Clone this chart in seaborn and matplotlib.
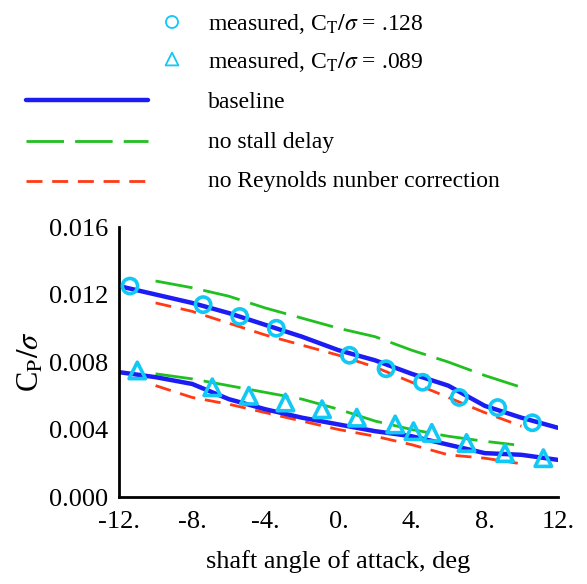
import matplotlib
matplotlib.use('Agg')
import matplotlib.pyplot as plt
import seaborn as sns

# measured points
alpha_128 = [-11.4, -7.4, -5.4, -3.4, 0.6, 2.6, 4.6, 6.6, 8.7, 10.6]
cp_128 = [0.0125, 0.0114, 0.0107, 0.0100, 0.0084, 0.0076, 0.0068, 0.0059, 0.0053, 0.0044]
alpha_089 = [-11.0, -6.9, -4.9, -2.9, -0.9, 1.0, 3.1, 4.1, 5.1, 7.0, 9.1, 11.2]
cp_089 = [0.0075, 0.0065, 0.0060, 0.0056, 0.0052, 0.0047, 0.0043, 0.0039, 0.0038, 0.0032, 0.0026, 0.0023]

# predictions
alpha_base = [-12, -10, -8, -6, -4, -2, 0, 2, 4, 6, 8, 10, 12]
base_128 = [0.0125, 0.0120, 0.0115, 0.0109, 0.0102, 0.0095, 0.0087, 0.0081, 0.0073, 0.0066, 0.0054, 0.0047, 0.0041]
base_089 = [0.0074, 0.0071, 0.0067, 0.0058, 0.0052, 0.0047, 0.0043, 0.0039, 0.0036, 0.0031, 0.0026, 0.0025, 0.0022]

alpha_nsd_128 = [-10, -8, -6, -4, -2, 0, 2, 4, 6, 8, 10]
nsd_128 = [0.0128, 0.0124, 0.0119, 0.0112, 0.0106, 0.0100, 0.0095, 0.0087, 0.0080, 0.0072, 0.0065]
alpha_nsd_089 = [-10, -8, -6, -4, -2, 0, 2, 4, 6, 8, 9.6]
nsd_089 = [0.0073, 0.0070, 0.0066, 0.0062, 0.0058, 0.0052, 0.0045, 0.0040, 0.0036, 0.0033, 0.0031]

alpha_nre_128 = [-10, -8, -6, -4, -2, 0, 2, 4, 6, 8, 10]
nre_128 = [0.0115, 0.0110, 0.0103, 0.0096, 0.0090, 0.0084, 0.0077, 0.0068, 0.0059, 0.0050, 0.0042]
alpha_nre_089 = [-10, -8, -6, -4, -2, 0, 2, 4, 6, 8, 9.8]
nre_089 = [0.0066, 0.0059, 0.0055, 0.0050, 0.0045, 0.0040, 0.0036, 0.0031, 0.0025, 0.0023, 0.0020]

x_ticks = [-12, -8, -4, 0, 4, 8, 12]
x_labels = ['-12.', '-8.', '-4.', '0.', '4.', '8.', '12.']
y_ticks = [0.0, 0.004, 0.008, 0.012, 0.016]
y_labels = ['0.000', '0.004', '0.008', '0.012', '0.016']

sns.set_style('white')
plt.rcParams['font.family'] = ['Liberation Serif', 'DejaVu Serif']
plt.rcParams['mathtext.fontset'] = 'stix'
plt.rcParams['lines.scale_dashes'] = False
plt.rcParams['text.color'] = 'black'
plt.rcParams['axes.labelcolor'] = 'black'

cyan = '#12c8f5'
blue = '#1c1cf5'
green = '#20c020'
red = '#ff3a14'
green_ls = (0, (27, 8))
red_ls = (0, (11.5, 7))

fig = plt.figure(figsize=(5.87, 5.84), dpi=100)
ax = fig.add_axes([119 / 587, 1 - 497 / 584, (558 - 119) / 587, (497 - 227) / 584])

for xs, ys in [(alpha_nsd_128, nsd_128), (alpha_nsd_089, nsd_089)]:
    sns.lineplot(x=xs, y=ys, ax=ax, color=green, lw=2, linestyle=green_ls)
for xs, ys in [(alpha_nre_128, nre_128), (alpha_nre_089, nre_089)]:
    sns.lineplot(x=xs, y=ys, ax=ax, color=red, lw=2, linestyle=red_ls)
for ys in [base_128, base_089]:
    sns.lineplot(x=alpha_base, y=ys, ax=ax, color=blue, lw=3.2)

sns.scatterplot(x=alpha_128, y=cp_128, ax=ax, marker='o', s=120,
                facecolors='none', edgecolor=cyan, linewidth=2.6, zorder=3)
sns.scatterplot(x=alpha_089, y=cp_089, ax=ax, marker='^', s=140,
                facecolors='none', edgecolor=cyan, linewidth=2.6, zorder=3)

ax.set_xlim(-12, 12)
ax.set_ylim(0, 0.016)
ax.set_xticks(x_ticks)
ax.set_xticklabels(x_labels)
ax.set_yticks(y_ticks)
ax.set_yticklabels(y_labels)
ax.tick_params(direction='in', length=14, width=1.1, color='black',
               labelsize=19, labelcolor='black')
ax.tick_params(axis='y', pad=8)
ax.tick_params(axis='x', pad=10)
for side in ['top', 'right']:
    ax.spines[side].set_visible(False)
for side in ['left', 'bottom']:
    ax.spines[side].set_color('black')
    ax.spines[side].set_linewidth(2)
ax.set_xlabel('shaft angle of attack, deg', fontsize=19, labelpad=12)
ax.set_ylabel(r'C$_{\rm P}/\sigma$', fontsize=22, labelpad=2)

# legend drawn in its own pixel-coordinate axes
lg = fig.add_axes([0, 1 - 200 / 584, 1, 200 / 584])
lg.set_xlim(0, 587)
lg.set_ylim(200, 0)
lg.axis('off')
lg.scatter([172], [22], marker='o', s=75, facecolors='none', edgecolors=cyan, linewidths=1.3)
lg.scatter([172], [59], marker='^', s=85, facecolors='none', edgecolors=cyan, linewidths=1.3)
lg.plot([26, 148], [100, 100], color=blue, lw=3.2)
lg.plot([26, 148], [141, 141], color=green, lw=2, linestyle=green_ls)
lg.plot([26, 145], [181, 181], color=red, lw=2, linestyle=red_ls)
legend_texts = [r'measured, C$_{\rm T}/\sigma$ = .128', r'measured, C$_{\rm T}/\sigma$ = .089',
                'baseline', 'no stall delay', 'no Reynolds nunber correction']
for txt, yb in zip(legend_texts, [30, 68, 108, 148, 187]):
    lg.text(208, yb, txt, fontsize=17, va='baseline', ha='left', color='black')

fig.savefig('out.png', dpi=100)
